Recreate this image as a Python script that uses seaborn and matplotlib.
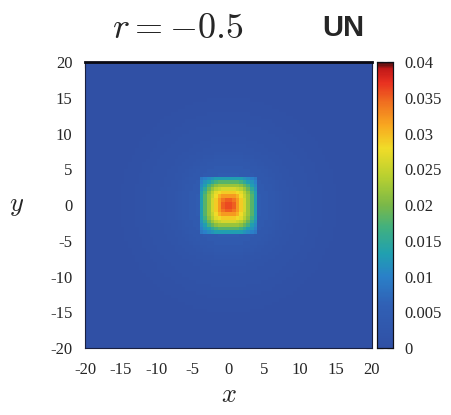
import numpy as np
import pandas as pd
import matplotlib
matplotlib.use("Agg")
import matplotlib.pyplot as plt
from matplotlib.colors import LinearSegmentedColormap
import seaborn as sns

sns.set_theme(style="white")
plt.rcParams["mathtext.fontset"] = "cm"

# Density on a 0.5-unit grid over [-20, 20]^2 (one quadrant of the core, mirrored)
cell = 0.5
half_cells = 40
core = [
    [0.036, 0.035, 0.032, 0.029, 0.026, 0.022, 0.018, 0.013],
    [0.035, 0.034, 0.032, 0.029, 0.026, 0.022, 0.018, 0.013],
    [0.032, 0.032, 0.0305, 0.028, 0.025, 0.022, 0.018, 0.013],
    [0.029, 0.029, 0.028, 0.027, 0.024, 0.021, 0.017, 0.013],
    [0.026, 0.026, 0.025, 0.024, 0.022, 0.019, 0.015, 0.012],
    [0.022, 0.022, 0.022, 0.021, 0.019, 0.017, 0.013, 0.011],
    [0.018, 0.018, 0.018, 0.017, 0.015, 0.013, 0.012, 0.010],
    [0.013, 0.013, 0.013, 0.013, 0.012, 0.011, 0.010, 0.009],
]
# faint tail outside the core, by ring (in cells) from the centre
halo = [0.0045, 0.0040, 0.0036, 0.0032, 0.0029, 0.0026, 0.0023, 0.0021,
        0.0019, 0.0017, 0.0015, 0.0013, 0.0012, 0.0011, 0.0010, 0.0009,
        0.0008, 0.0007, 0.0006, 0.0005, 0.0004, 0.0004, 0.0003, 0.0003,
        0.0002, 0.0002, 0.0001, 0.0001, 0.0, 0.0, 0.0, 0.0]
tick_vals = [-20, -15, -10, -5, 0, 5, 10, 15, 20]
cbar_ticks = [0, 0.005, 0.01, 0.015, 0.02, 0.025, 0.03, 0.035, 0.04]
cbar_labels = ["0", "0.005", "0.01", "0.015", "0.02", "0.025", "0.03", "0.035", "0.04"]

n = 2 * half_cells
ncore = len(core)
grid = np.zeros((n, n))
for r in range(n):
    i = r - half_cells if r >= half_cells else half_cells - 1 - r
    for c in range(n):
        j = c - half_cells if c >= half_cells else half_cells - 1 - c
        if i < ncore and j < ncore:
            grid[r, c] = core[i][j]
        else:
            ring = int(round(np.hypot(i, j))) - ncore
            grid[r, c] = halo[ring] if ring < len(halo) else 0.0

xs = (np.arange(n) - half_cells + 0.5) * cell
df = pd.DataFrame(grid[::-1], index=xs[::-1], columns=xs)

cmap = LinearSegmentedColormap.from_list("dens", [
    (0.0, "#3050a5"), (0.15, "#3060b5"), (0.25, "#2a80c8"),
    (0.33, "#20a0b0"), (0.42, "#40b080"), (0.5, "#7ab848"),
    (0.6, "#b8d030"), (0.7, "#f0dc28"), (0.78, "#f8a820"),
    (0.86, "#f07020"), (0.93, "#e83020"), (0.98, "#c01818"),
    (1.0, "#401010")])

fig = plt.figure(figsize=(4.52, 4.15), dpi=100)
ax = fig.add_axes([0.188, 0.161, 0.635, 0.689])
cax = fig.add_axes([0.834, 0.161, 0.035, 0.689])

sns.heatmap(df, ax=ax, cbar_ax=cax, cmap=cmap, vmin=0, vmax=0.04,
            xticklabels=False, yticklabels=False, rasterized=True,
            cbar_kws={"ticks": cbar_ticks})

serif = "Liberation Serif"
ax.set_xticks([(v + 20) / cell for v in tick_vals])
ax.set_xticklabels([str(v) for v in tick_vals], family=serif, fontsize=12)
ax.set_yticks([(20 - v) / cell for v in tick_vals])
ax.set_yticklabels([str(v) for v in tick_vals], family=serif, fontsize=12,
                   rotation=0)
ax.tick_params(axis="both", direction="in", length=4, width=0.8,
               color="#1a2040", top=True, right=True)
ax.tick_params(axis="x", pad=10)
ax.tick_params(axis="y", pad=9)
ax.set_xlabel(r"$x$", fontsize=19, labelpad=3)
ax.set_ylabel(r"$y$", fontsize=19, rotation=0, labelpad=24, va="center")
for side, sp in ax.spines.items():
    sp.set_visible(True)
    sp.set_color("#1a2040")
    sp.set_linewidth(0.8)
ax.spines["top"].set_linewidth(2.0)
ax.spines["top"].set_color("#0a0a14")

cax.set_yticklabels(cbar_labels, family=serif, fontsize=12)
cax.tick_params(direction="in", length=4, width=0.8, color="#1a2040",
                left=True, right=True, pad=8)
cax.yaxis.set_ticks_position("both")
cax.yaxis.set_label_position("right")
for lbl in cax.get_yticklabels():
    lbl.set_horizontalalignment("left")
for sp in cax.spines.values():
    sp.set_visible(True)
    sp.set_color("#101018")
    sp.set_linewidth(0.8)

fig.text(0.392, 0.933, r"$r=-0.5$", fontsize=26, ha="center", va="center")
fig.text(0.76, 0.933, "UN", fontsize=21, ha="center", va="center",
         family="Liberation Sans", weight="bold")

fig.savefig("out.png", dpi=100)
